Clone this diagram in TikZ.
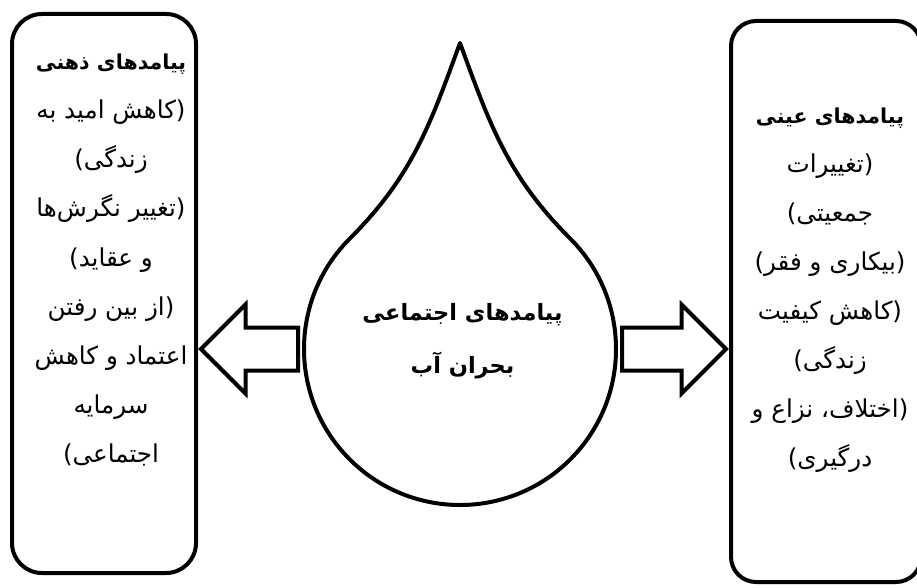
\documentclass[tikz,border=0pt]{standalone}
\usepackage{fontspec}
\usetikzlibrary{shapes.arrows}
\newfontfamily\arabicfont[Script=Arabic]{DejaVu Sans}
\TeXXeTstate=1
\newcommand{\fa}[1]{\beginR #1\endR}
\newcommand{\fahead}[1]{{\bfseries\fontsize{11.7}{27.9}\selectfont\beginR #1\endR}}

\begin{document}
\begin{tikzpicture}[
	sidebox/.style={draw, line width=0.8mm, rounded corners=6mm, outer sep=0pt, inner sep=0pt},
	sidetext/.style={font=\arabicfont\fontsize{14}{27.9}\selectfont, align=center},
	bigarrow/.style={draw, single arrow, line width=0.8mm, inner xsep=0pt, inner ysep=0.39cm, outer sep=0pt, minimum width=0pt, single arrow head extend=0.46cm, single arrow tip angle=90},
	]
	\useasboundingbox (0,0) rectangle (18.34,11.74);
	\clip (0,0) rectangle (18.34,11.74);
	% side boxes
	\node[sidebox, minimum width=3.68cm, minimum height=11.18cm] (leftbox) at (2.08,5.87) {};
	\node[sidebox, rounded corners=5mm, minimum width=3.80cm, minimum height=11.22cm] (rightbox) at (16.52,5.71) {};
	% water drop
	\coordinate (dropc) at (9.2,4.76);
	\coordinate (tip) at (9.2,10.88);
	\draw[line width=0.8mm, line join=round] (tip) to[out=-110,in=45] ([shift={(135:3.12)}]dropc)
		arc[start angle=135, end angle=405, radius=3.12] to[out=135,in=-70] (tip) -- cycle;
	\node[sidetext, font=\arabicfont\bfseries\fontsize{12.8}{30}\selectfont] (crisis) at (9.25,4.91)
		{\fa{پیامدهای اجتماعی}\\\fa{بحران آب}};
	% arrows
	\node[bigarrow, shape border rotate=180, minimum height=1.94cm, anchor=tip, xshift=1mm] (toleft) at (leftbox.east |- dropc) {};
	\node[bigarrow, minimum height=2.08cm, anchor=tip, xshift=-1mm] (toright) at (rightbox.west |- dropc) {};
	% texts
	\node[sidetext] (mindlines) at (2.22,6.54) {\fahead{پیامدهای ذهنی}\\
		\fa{(کاهش امید به}\\\fa{زندگی)}\\\fa{(تغییر نگرش‌ها}\\\fa{و عقاید)}\\
		\fa{(از بین رفتن}\\\fa{اعتماد و کاهش}\\\fa{سرمایه}\\\fa{اجتماعی)}};
	\node[sidetext] (objlines) at (16.6,5.94) {\fahead{پیامدهای عینی}\\
		\fa{(تغییرات}\\\fa{جمعیتی)}\\\fa{(بیکاری و فقر)}\\\fa{(کاهش کیفیت}\\
		\fa{زندگی)}\\\fa{(اختلاف، نزاع و}\\\fa{درگیری)}};
\end{tikzpicture}
\end{document}
